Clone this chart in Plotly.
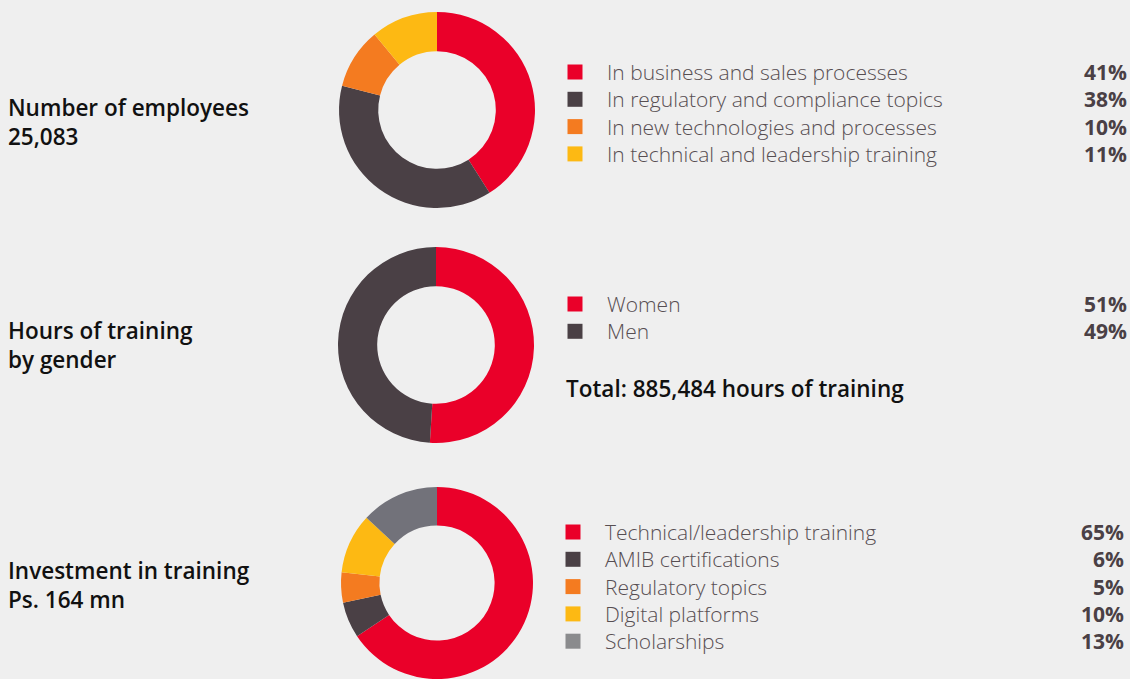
"""Training figures: three donut charts with side legends."""
import plotly.graph_objects as go

W, H = 1130, 679

RED = "#ea0029"
DARK = "#4a4045"
ORANGE = "#f47b20"
YELLOW = "#fdb913"
GRAY = "#72727a"
GRAY_KEY = "#8a8b8d"

BG = "#efefef"
TEXT_GRAY = "#574e52"
TEXT_DARK = "#4a4045"

# chart 1: number of employees
topic_labels = [
    "In business and sales processes",
    "In regulatory and compliance topics",
    "In new technologies and processes",
    "In technical and leadership training",
]
topic_values = [41, 38, 10, 11]
topic_colors = [RED, DARK, ORANGE, YELLOW]

# chart 2: hours by gender
gender_labels = ["Women", "Men"]
gender_values = [51, 49]
gender_colors = [RED, DARK]

# chart 3: investment
invest_labels = [
    "Technical/leadership training",
    "AMIB certifications",
    "Regulatory topics",
    "Digital platforms",
    "Scholarships",
]
invest_values = [65, 6, 5, 10, 13]
invest_colors = [RED, DARK, ORANGE, YELLOW, GRAY]
invest_key_colors = [RED, DARK, ORANGE, YELLOW, GRAY_KEY]

titles = [
    ("Number of employees", "25,083"),
    ("Hours of training", "by gender"),
    ("Investment in training", "Ps. 164 mn"),
]
total_note = "Total: 885,484 hours of training"

FONT = "Open Sans"
LEGEND_SIZE = 21  # plotly line spacing 1.3em -> ~27px rows
ROW = LEGEND_SIZE * 1.3


def px_domain(x0, x1, y0, y1):
    """Pixel box -> paper domain."""
    return {"x": [x0 / W, x1 / W], "y": [1 - y1 / H, 1 - y0 / H]}


fig = go.Figure()

pies = [
    (topic_labels, topic_values, topic_colors, (338, 536, 12, 208)),
    (gender_labels, gender_values, gender_colors, (338, 534, 247, 443)),
    (invest_labels, invest_values, invest_colors, (338, 536, 487, 679)),
]
for labels, values, colors, box in pies:
    fig.add_trace(
        go.Pie(
            labels=labels,
            values=values,
            marker={"colors": colors, "line": {"width": 0}},
            hole=0.6,
            sort=False,
            direction="clockwise",
            rotation=0,
            textinfo="none",
            hoverinfo="skip",
            domain=px_domain(*box),
            showlegend=False,
        )
    )

annotations = []

# left titles (two lines each, one annotation)
title_centers = [122, 345, 585]
for (line1, line2), yc in zip(titles, title_centers):
    annotations.append(
        dict(
            x=6, y=yc, xref="x", yref="y", text=f"{line1}<br>{line2}", showarrow=False,
            xanchor="left", yanchor="middle", align="left",
            font={"family": FONT, "size": 22.5, "color": "#111111", "weight": 600},
        )
    )

# legends: square keys as markers, labels / values as one block each
legends = [
    (topic_labels, topic_values, topic_colors, 575, 72, 1129),
    (gender_labels, gender_values, gender_colors, 575, 304, 1129),
    (invest_labels, invest_values, invest_key_colors, 573, 532, 1126),
]
for labels, values, colors, kx, y0, right in legends:
    n = len(labels)
    ys = [y0 + i * ROW for i in range(n)]
    yc = y0 + (n - 1) * ROW / 2
    fig.add_trace(
        go.Scatter(
            x=[kx] * n, y=ys, mode="markers",
            marker={"symbol": "square", "size": 15, "color": colors},
            hoverinfo="skip", showlegend=False,
        )
    )
    annotations.append(
        dict(
            x=kx + 30, y=yc, xref="x", yref="y", text="<br>".join(labels),
            showarrow=False, xanchor="left", yanchor="middle", align="left",
            font={"family": FONT, "size": LEGEND_SIZE, "color": TEXT_GRAY, "weight": 300},
        )
    )
    annotations.append(
        dict(
            x=right, y=yc, xref="x", yref="y",
            text="<br>".join(f"<b>{v}%</b>" for v in values),
            showarrow=False, xanchor="right", yanchor="middle", align="right",
            font={"family": FONT, "size": LEGEND_SIZE, "color": TEXT_DARK},
        )
    )

annotations.append(
    dict(
        x=564, y=388, xref="x", yref="y", text=total_note, showarrow=False,
        xanchor="left", yanchor="middle",
        font={"family": FONT, "size": 22.5, "color": "#111111", "weight": 600},
    )
)

fig.update_layout(
    width=W,
    height=H,
    margin={"l": 0, "r": 0, "t": 0, "b": 0},
    paper_bgcolor=BG,
    plot_bgcolor=BG,
    xaxis={"range": [0, W], "visible": False, "fixedrange": True},
    yaxis={"range": [H, 0], "visible": False, "fixedrange": True},
    annotations=annotations,
    showlegend=False,
)

fig.write_html(
    "out.html",
    config={"displayModeBar": False},
    post_script="document.body.style.margin='0';",
)
